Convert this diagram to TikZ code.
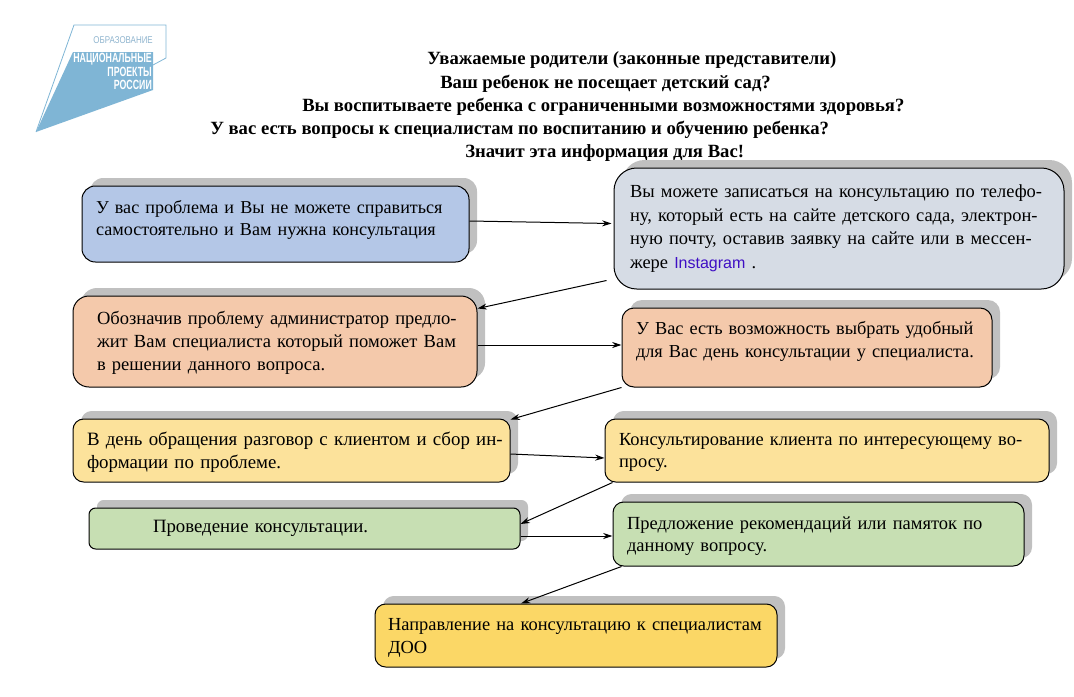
\documentclass[tikz,border=0pt]{standalone}
\usepackage{fontspec}
\setmainfont{Liberation Serif}
\newfontfamily\logofont{Liberation Sans}
\usetikzlibrary{arrows.meta,shadows}
\definecolor{logoblue}{HTML}{7FB5D5}
\definecolor{logotext}{HTML}{8FB4CE}
\definecolor{boxblue}{HTML}{B4C7E7}
\definecolor{boxgray}{HTML}{D6DCE5}
\definecolor{boxorange}{HTML}{F4C9AB}
\definecolor{boxyellow}{HTML}{FCE29B}
\definecolor{boxgreen}{HTML}{C7DFB3}
\definecolor{boxgold}{HTML}{FBD766}
\definecolor{shadowgray}{HTML}{C0C0C0}
\definecolor{linkviolet}{HTML}{3F0FC4}
\tikzset{
  stepbox/.style n args={3}{draw=black,line width=.75pt,align=left,
    minimum width=#1*.75pt,minimum height=#2*.75pt,inner ysep=0pt,
    inner xsep=#3*.75pt,text width=(#1-2*#3)*.75pt,
    copy shadow={shadow xshift=6pt,shadow yshift=6pt,draw=none,fill=shadowgray}},
  fs/.style={font=\fontsize{#1}{17pt}\selectfont},
  lift/.style={execute at end node={\par\vspace*{#1}}},
  headline/.style={anchor=west,inner sep=0pt,font=\fontsize{14pt}{16pt}\selectfont\bfseries},
  logoline/.style={anchor=east,inner sep=0pt,xscale=.66,text=white,font=\fontsize{10pt}{11pt}\logofont\bfseries},
  arr/.style={line width=.75pt,arrows=-{Stealth[length=7pt,width=4.5pt]}},
}
\begin{document}
\begin{tikzpicture}[x=.75pt,y=-.75pt]
\useasboundingbox (0,0) rectangle (1074,696);
% logo
\fill[logoblue] (73,52) -- (153,52) -- (153,90) -- (36,132) -- cycle;
\draw[logoblue,line width=.6pt] (36,132) -- (74,25) -- (166,25) -- (166,58) -- (153,65);
\node[logoline,text=logotext,font=\fontsize{7.4pt}{9pt}\logofont,xscale=1.22] (logotop) at (153,40) {ОБРАЗОВАНИЕ};
\node[logoline] (logoa) at (152,59) {НАЦИОНАЛЬНЫЕ};
\node[logoline] (logob) at (152,72) {ПРОЕКТЫ};
\node[logoline] (logoc) at (152,85) {РОССИИ};
% heading
\node[headline] (heada) at (427,60) {Уважаемые родители (законные представители)};
\node[headline] (headb) at (440,84) {Ваш ребенок не посещает детский сад?};
\node[headline] (headc) at (302,107) {Вы воспитываете ребенка с ограниченными возможностями здоровья?};
\node[headline] (headd) at (210,130) {У вас есть вопросы к специалистам по воспитанию и обучению ребенка?};
\node[headline] (heade) at (465,153) {Значит эта информация для Вас!};
% boxes
\node[stepbox={387}{76}{14},fs=13.6pt,fill=boxblue,rounded corners=10pt,lift=6pt] (problem) at (275.5,224)
  {У вас проблема и Вы не можете справиться\\самостоятельно и Вам нужна консультация};
\node[stepbox={450}{121}{16},fs=13.84pt,fill=boxgray,rounded corners=17pt] (phone) at (839,228.5)
  {Вы можете записаться на консультацию по телефо-\\[.6pt]ну, который есть на сайте детского сада, электрон-\\[.6pt]ную почту, оставив заявку на сайте или в мессен-\\[.6pt]жере {\logofont\fontsize{12pt}{17pt}\selectfont\color{linkviolet}Instagram} .};
\node[stepbox={404}{91}{24},fs=13.9pt,fill=boxorange,rounded corners=12pt,lift=-2pt] (admin) at (275,341.5)
  {\mbox{Обозначив проблему администратор предло-}\\\mbox{жит Вам специалиста который поможет Вам}\\в решении данного вопроса.};
\node[stepbox={370}{79}{14},fs=13.72pt,fill=boxorange,rounded corners=9pt,lift=9pt] (day) at (807,347.5)
  {У Вас есть возможность выбрать удобный\\для Вас день консультации у специалиста.};
\node[stepbox={437}{63}{14},fs=14.14pt,fill=boxyellow,rounded corners=8pt,lift=-3pt] (talk) at (291.5,450.5)
  {\mbox{В день обращения разговор с клиентом и сбор ин-}\\формации по проблеме.};
\node[stepbox={444}{63}{14},fs=13.84pt,fill=boxyellow,rounded corners=8pt,lift=-3pt] (client) at (827,450.5)
  {Консультирование клиента по интересующему во-\\просу.};
\node[stepbox={431}{41}{64},fs=14.1pt,fill=boxgreen,rounded corners=5pt] (session) at (304.5,528.5)
  {Проведение консультации.};
\node[stepbox={411}{64}{14},fs=13.87pt,fill=boxgreen,rounded corners=8pt,lift=-3pt] (advice) at (818.5,534)
  {Предложение рекомендаций или памяток по\\данному вопросу.};
\node[stepbox={402}{63}{13},fs=13.82pt,fill=boxgold,rounded corners=8pt,lift=-4pt] (referral) at (576,635.5)
  {Направление на консультацию к специалистам\\ДОО};
% arrows
\draw[arr] ([shift={(0,-3)}]problem.east) -- ([shift={(-2,-5)}]phone.west);
\draw[arr] ([shift={(-7,-9)}]phone.south west) -- ([shift={(0,13)}]admin.north east);
\draw[arr] ([shift={(0,3.5)}]admin.east) -- ([shift={(0,-2.5)}]day.west);
\draw[arr] (day.south west) -- ([shift={(0,1)}]talk.north east);
\draw[arr] ([shift={(0,3.5)}]talk.east) -- ([shift={(0,7.5)}]client.west);
\draw[arr] ([shift={(8,0)}]client.south west) -- ([shift={(0,-4.5)}]session.east);
\draw[arr] ([shift={(0,7.5)}]session.east) -- ([shift={(0,2)}]advice.west);
\draw[arr] ([shift={(9,0)}]advice.south west) -- ([shift={(-55,0)}]referral.north);
\end{tikzpicture}
\end{document}
